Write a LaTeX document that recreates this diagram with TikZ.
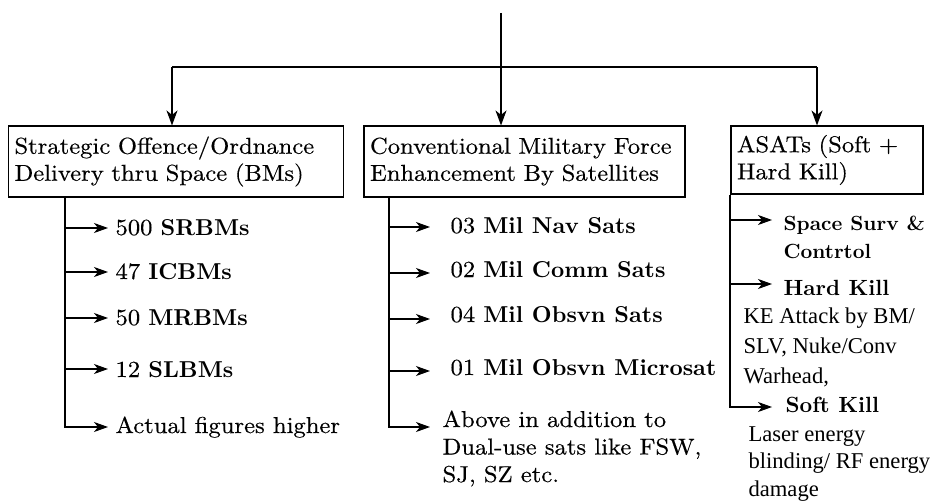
\documentclass[tikz,border=0pt]{standalone}
\usepackage{fontspec}
\usetikzlibrary{arrows.meta}
\newfontfamily\pal{lmroman10-regular}[Extension=.otf,FakeStretch=1.07,FakeBold=0.4]
\newfontfamily\bld{lmroman10-bold}[Extension=.otf]
\newfontfamily\tms{Liberation Serif}

\begin{document}
\begin{tikzpicture}[x=1pt,y=-1pt,line width=1.1pt,
  head/.style={draw,align=left,inner xsep=6pt,inner ysep=2pt,minimum height=71pt,
    font=\pal\fontsize{23}{27}\selectfont},
  item/.style={anchor=base west,inner sep=0pt,align=left,font=\pal\fontsize{23}{27.5}\selectfont},
  bitem/.style={item,font=\bld\fontsize{22}{28}\selectfont},
  note/.style={anchor=base west,inner sep=0pt,align=left,font=\tms\fontsize{22.6}{30}\selectfont},
  down/.style={-{Stealth[length=15pt,width=11pt,inset=4.5pt]}},
  tip/.style={-{Stealth[length=14pt,width=10pt,inset=4pt]}}]
 \useasboundingbox (0,0) rectangle (941,503);
 \coordinate (top) at (501,13);
 \coordinate (b1) at (172,67);
 \coordinate (b2) at (501,67);
 \coordinate (b3) at (817,67);
 \coordinate (sL) at (65,0);
 \coordinate (tL) at (108,0);
 \coordinate (sM) at (389,0);
 \coordinate (tM) at (430,0);
 \coordinate (sR) at (730,0);
 \coordinate (tR) at (772,0);

 \node (strat) [head,text width=323pt] at (176,161.5) {Strategic Offence/Ordnance\\Delivery thru Space (BMs)};
 \node (conv) [head,text width=309pt] at (524.5,161.5) {Conventional Military Force\\Enhancement By Satellites};
 \node (asat) [head,text width=180pt,minimum height=68pt] at (827,160) {ASATs (Soft +\\Hard Kill)};

 \draw (top) -- (b2);
 \draw (b1) -- (b3);
 \draw[down] (b1) -- (b1 |- strat.north);
 \draw[down] (b2) -- (b2 |- conv.north);
 \draw[down] (b3) -- (b3 |- asat.north);

 \node (srbm) [item] at (115,235) {500 {\bld SRBMs}};
 \node (icbm) [item] at (115,279) {47 {\bld ICBMs}};
 \node (mrbm) [item] at (115,325) {50 {\bld MRBMs}};
 \node (slbm) [item] at (115,377) {12 {\bld SLBMs}};
 \node (actual) [item] at (115,433) {Actual figures higher};
 \draw[tip] ([yshift=7pt]srbm.base west -| sL) -- ([yshift=7pt]srbm.base west -| tL);
 \draw[tip] ([yshift=7pt]icbm.base west -| sL) -- ([yshift=7pt]icbm.base west -| tL);
 \draw[tip] ([yshift=7pt]mrbm.base west -| sL) -- ([yshift=7pt]mrbm.base west -| tL);
 \draw[tip] ([yshift=8pt]slbm.base west -| sL) -- ([yshift=8pt]slbm.base west -| tL);
 \draw[tip] (strat.south -| sL) |- ([yshift=6pt]actual.base west -| tL);

 \node (nav) [item] at (450,233) {03 {\bld Mil Nav Sats}};
 \node (comm) [item] at (450,277) {02 {\bld Mil Comm Sats}};
 \node (obsvn) [item] at (450,322) {04 {\bld Mil Obsvn Sats}};
 \node (micro) [item] at (450,375) {01 {\bld Mil Obsvn Microsat}};
 \node (dual) [item] at (442,482) {Above in addition to\\Dual-use sats like FSW,\\SJ, SZ etc.};
 \draw[tip] ([yshift=6pt]nav.base west -| sM) -- ([yshift=6pt]nav.base west -| tM);
 \draw[tip] ([yshift=4pt]comm.base west -| sM) -- ([yshift=4pt]comm.base west -| tM);
 \draw[tip] ([yshift=3pt]obsvn.base west -| sM) -- ([yshift=3pt]obsvn.base west -| tM);
 \draw[tip] ([yshift=4pt]micro.base west -| sM) -- ([yshift=4pt]micro.base west -| tM);
 \draw[tip] (conv.south -| sM) |- ([yshift=55pt]dual.base west -| tM);

 \node (surv) [bitem,font=\bld\fontsize{20.5}{28}\selectfont] at (783,258) {Space Surv \&\\Contrtol};
 \node (hard) [bitem] at (783,295) {Hard Kill};
 \node (keatk) [note] at (743,383) {KE Attack by BM/\\SLV, Nuke/Conv\\Warhead,};
 \node (soft) [bitem] at (785,412) {Soft Kill};
 \node (laser) [note,font=\tms\fontsize{22.6}{27.5}\selectfont] at (748,496) {Laser energy\\blinding/ RF energy\\damage};
 \draw[tip] ([yshift=38pt]surv.base west -| sR) -- ([yshift=38pt]surv.base west -| tR);
 \draw[tip] ([yshift=11pt]hard.base west -| sR) -- ([yshift=11pt]hard.base west -| tR);
 \draw[tip] (asat.south -| sR) |- ([yshift=5pt]soft.base west -| tR);
\end{tikzpicture}
\end{document}
